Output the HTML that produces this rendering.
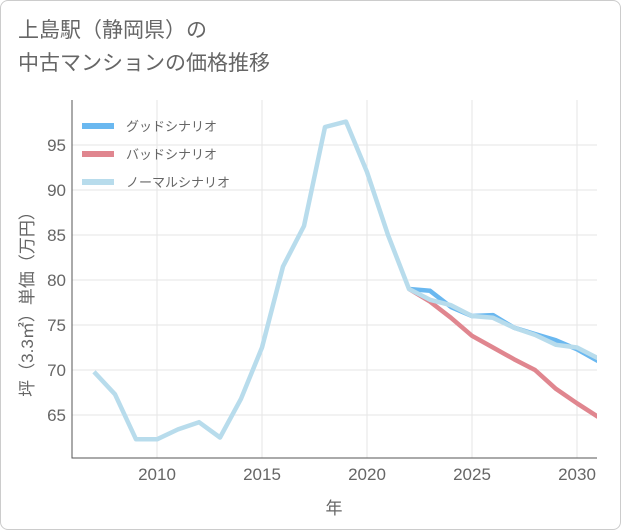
<!DOCTYPE html>
<html><head><meta charset="utf-8"><style>
body{margin:0;background:#fff;font-family:"Liberation Sans","Noto Sans CJK JP",sans-serif;}
#card{position:absolute;left:0;top:0;width:619px;height:528px;border:1px solid #ccc;border-radius:8px;background:#fff;}
#title{position:absolute;left:18px;top:14px;font-size:21px;line-height:33px;color:#666;}
svg{position:absolute;left:0;top:0;}
</style></head><body>
<div id="card"></div>
<div id="title">上島駅（静岡県）の<br>中古マンションの価格推移</div>
<svg id="chart" width="621" height="530"></svg>
<script>
const years=[2007,2008,2009,2010,2011,2012,2013,2014,2015,2016,2017,2018,2019,2020,2021,2022,2023,2024,2025,2026,2027,2028,2029,2030,2031];
const normalVals=[69.8,67.3,62.3,62.3,63.4,64.2,62.5,66.8,72.5,81.5,86,97,97.6,92,85,79,77.8,77.2,76,75.8,74.7,73.9,72.8,72.5,71.3];
const goodYears=[2022,2023,2024,2025,2026,2027,2028,2029,2030,2031];
const goodVals=[79,78.8,77,76,76.1,74.7,74,73.3,72.3,71];
const badVals=[79,77.6,75.8,73.8,72.5,71.2,70,67.9,66.3,64.8];
const xTicks=[2010,2015,2020,2025,2030];
const yTicks=[65,70,75,80,85,90,95];
const NS='http://www.w3.org/2000/svg';
const svg=document.getElementById('chart');
const X0=72,X1=597,Y0=100,Y1=458;
const xs=y=>157+(y-2010)*21;
const ys=v=>190-(v-90)*9;
function mk(t,a){const e=document.createElementNS(NS,t);for(const k in a)e.setAttribute(k,a[k]);svg.appendChild(e);return e;}
for(const t of yTicks){
 const l=mk('line',{x1:X0,x2:X1,y1:ys(t),y2:ys(t),stroke:'#e6e6e6'});
 
 
 const tx=mk('text',{x:X0-6,y:ys(t)+6,'text-anchor':'end','font-size':17,fill:'#666'});
 tx.textContent=t;
 
 
}
for(const t of xTicks){
 const l=mk('line',{x1:xs(t),x2:xs(t),y1:Y0,y2:Y1,stroke:'#e6e6e6'});
 
 
 const tx=mk('text',{x:xs(t),y:480,'text-anchor':'middle','font-size':17,fill:'#666'});
 tx.textContent=t;
 
 
}
const ax=mk('path',{d:`M${X0} ${Y0}V${Y1}H${X1}`,stroke:'#555',fill:'none'});


const defs=mk('defs',{});
const cp=document.createElementNS(NS,'clipPath');cp.setAttribute('id','c');defs.appendChild(cp);
const cr=document.createElementNS(NS,'rect');cr.setAttribute('x',X0);cr.setAttribute('y',Y0);cr.setAttribute('width',X1-X0);cr.setAttribute('height',Y1-Y0);cp.appendChild(cr);
function line(xv,yv,c,name){
 const p=mk('polyline',{points:xv.map((x,i)=>xs(x)+','+ys(yv[i])).join(' '),fill:'none',stroke:c,'stroke-width':4.5,'stroke-linejoin':'round','clip-path':'url(#c)'});
 
 
}
line(goodYears,goodVals,'#6ab8f0','good-scenario-line');
line(goodYears,badVals,'#e0868f','bad-scenario-line');
line(years,normalVals,'#b8dcec','normal-scenario-line');
const leg=[['グッドシナリオ','#6ab8f0',126],['バッドシナリオ','#e0868f',154],['ノーマルシナリオ','#b8dcec',182]];
for(const [n,c,y] of leg){
 const r=mk('rect',{x:82,y:y-3,width:32,height:6,fill:c});
 
 
 const t=mk('text',{x:126,y:y+5,'font-size':13,fill:'#666'});
 t.textContent=n;
 
 
}
const xt=mk('text',{x:334,y:514,'text-anchor':'middle','font-size':17,fill:'#666'});
xt.textContent='年';


const yt=mk('text',{x:0,y:0,'text-anchor':'middle','font-size':17,fill:'#666',transform:'translate(33,300) rotate(-90)'});
yt.textContent='坪（3.3㎡）単価（万円）';


</script>
</body></html>
